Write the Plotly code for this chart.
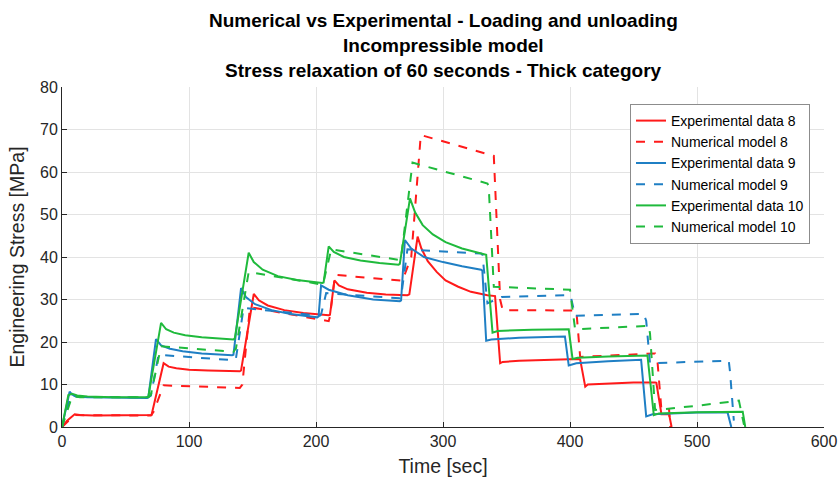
import plotly.graph_objects as go

# ---------------- data ----------------
exp8_t = [0, 4, 10, 14, 25, 40, 69, 70.5, 80, 84, 90, 100, 115, 140, 141, 151, 155, 162, 175, 190, 210,
          211, 214.5, 218, 225, 240, 255, 272, 273.5, 280, 283, 288, 295, 302, 312, 322, 335, 341, 345, 347,
          360, 380, 406, 408, 412, 414, 430, 450, 467, 468, 472, 476, 478, 480]
exp8_s = [0, 1.5, 3.0, 2.8, 2.7, 2.7, 2.7, 2.8, 15.0, 14.2, 13.8, 13.5, 13.3, 13.1, 13.3, 31.3, 29.8, 28.6,
          27.5, 26.8, 26.3, 26.4, 34.5, 33.3, 32.4, 31.6, 31.2, 31.0, 31.2, 44.8, 42.0, 39.0, 36.5, 34.5, 33.0,
          31.8, 31.0, 30.8, 15.0, 15.3, 15.6, 15.8, 16.0, 15.9, 9.5, 10.0, 10.3, 10.5, 10.5, 10.4, 3.0, 3.0, 3.0, 0]

num8_t = [0, 10, 70, 72, 80, 140, 142, 148, 210, 211, 215, 268, 275, 282.5, 340, 345, 347, 405, 408, 467,
          469, 472, 478, 479]
num8_s = [0, 2.8, 2.7, 3.5, 9.8, 9.2, 10.0, 28.2, 24.9, 26.0, 35.8, 34.4, 40.0, 68.7, 63.8, 30.0, 27.5,
          27.4, 16.5, 17.3, 15.0, 4.0, 4.2, 0]

exp9_t = [0, 6, 8, 12, 20, 40, 67, 68, 74, 78, 85, 95, 110, 134, 135, 141, 145, 152, 165, 180, 201, 202,
          204, 210, 225, 245, 266, 267, 270, 275, 285, 300, 315, 330, 331, 334, 338, 360, 395, 396, 399, 405,
          430, 455, 456, 460, 465, 500, 524, 527]
exp9_s = [0, 8.3, 7.6, 7.2, 7.0, 6.9, 6.8, 7.0, 20.7, 19.2, 18.4, 17.8, 17.3, 16.9, 17.0, 32.7, 30.5, 28.9,
          27.5, 26.6, 25.8, 26.0, 33.3, 32.3, 31.0, 30.0, 29.6, 29.8, 44.0, 42.0, 40.0, 38.8, 37.8, 37.0,
          36.8, 20.3, 20.6, 21.0, 21.3, 21.3, 14.5, 15.0, 15.5, 15.8, 15.8, 2.5, 3.0, 3.4, 3.5, 0]

num9_t = [0, 7, 12, 68, 70, 76, 135, 137, 143, 203, 204, 208, 266, 267, 272, 330, 331, 335, 346, 399,
          401, 404, 458, 460, 463, 525, 526, 529]
num9_s = [0, 7.5, 7.1, 7.0, 7.4, 17.0, 15.7, 16.2, 28.0, 26.2, 26.5, 31.5, 30.3, 30.6, 41.8, 40.8,
          40.6, 29.1, 30.6, 31.0, 30.2, 26.2, 26.6, 25.0, 15.0, 15.6, 13.0, 1.5]

exp10_t = [0, 5, 8, 12, 20, 40, 67, 68, 78, 82, 88, 97, 110, 135, 136, 147, 151, 158, 170, 185, 205, 206,
           210, 214, 222, 235, 250, 265, 266, 274, 278, 284, 292, 302, 315, 333, 334, 339, 343, 370, 398,
           399, 402, 406, 430, 460, 461, 466, 470, 500, 536, 538]
exp10_s = [0, 7.5, 7.8, 7.4, 7.2, 7.0, 7.0, 7.2, 24.5, 23.0, 22.2, 21.6, 21.1, 20.6, 20.8, 41.0, 38.8,
           37.0, 35.5, 34.6, 33.9, 34.0, 42.5, 41.2, 40.0, 39.2, 38.6, 38.2, 38.4, 53.8, 50.5, 47.5, 45.3,
           43.5, 42.0, 40.7, 40.5, 22.2, 22.6, 22.9, 23.0, 23.0, 16.0, 16.3, 16.6, 16.8, 16.8, 2.8, 3.2,
           3.5, 3.6, 0]

num10_t = [0, 8, 14, 68, 70, 78, 135, 137, 147, 205, 206, 212, 266, 267, 276, 335, 336, 340, 400, 401,
           404, 462, 463, 467, 500, 533, 537]
num10_s = [0, 7.3, 7.0, 7.0, 7.6, 19.0, 17.7, 18.5, 36.5, 33.5, 34.2, 41.8, 39.3, 39.8, 62.2, 57.3,
           56.5, 33.0, 32.3, 30.0, 23.0, 23.8, 22.0, 4.0, 5.0, 6.2, 0.5]

names = ["Experimental data 8", "Numerical model 8", "Experimental data 9",
         "Numerical model 9", "Experimental data 10", "Numerical model 10"]

title_lines = ["Numerical vs Experimental - Loading and unloading",
               "Incompressible model",
               "Stress relaxation of 60 seconds - Thick category"]

RED = "#ff1a1a"
BLUE = "#1f7fc4"
GREEN = "#1fba3c"

series = [
    (exp8_t, exp8_s, RED, "solid"),
    (num8_t, num8_s, RED, "dash"),
    (exp9_t, exp9_s, BLUE, "solid"),
    (num9_t, num9_s, BLUE, "dash"),
    (exp10_t, exp10_s, GREEN, "solid"),
    (num10_t, num10_s, GREEN, "dash"),
]

fig = go.Figure()
for name, (t, s, c, d) in zip(names, series):
    fig.add_trace(go.Scatter(x=t, y=s, mode="lines", name=name,
                             line=dict(color=c, width=2, dash=d)))

FONT = "Liberation Sans, Arial, sans-serif"
AX = "#262626"
GRID = "#e3e3e3"

# plot area: x 62..824 px, y 87..427 px
L, R, T, B = 62, 824, 87, 427
title_y_px = [20, 46, 71]
for txt, ypx in zip(title_lines, title_y_px):
    fig.add_annotation(
        text="<b>" + txt + "</b>", xref="paper", yref="paper",
        x=0.5, xanchor="center", y=(B - ypx) / (B - T), yanchor="middle",
        showarrow=False, font=dict(family=FONT, size=19, color="black"),
    )

fig.update_layout(
    width=838, height=480,
    margin=dict(l=L, r=838 - R, t=T, b=480 - B, autoexpand=False),
    paper_bgcolor="white", plot_bgcolor="white",
    font=dict(family=FONT, color=AX, size=16),
    showlegend=True,
    legend=dict(
        x=(810 - L) / (R - L), xanchor="right", y=(B - 104) / (B - T), yanchor="top",
        bgcolor="white", bordercolor="#8c8c8c", borderwidth=1,
        font=dict(family=FONT, size=14, color="black"),
        itemwidth=30, tracegroupgap=0,
    ),
)

fig.update_xaxes(
    range=[0, 600], tickvals=[0, 100, 200, 300, 400, 500, 600],
    showgrid=True, gridcolor=GRID, gridwidth=1, automargin=False,
    showline=True, linecolor=AX, linewidth=1, mirror=False,
    ticks="inside", ticklen=5, tickcolor=AX,
    zeroline=False,
    title=dict(text="Time [sec]", font=dict(size=19.5, color=AX), standoff=10),
    tickfont=dict(size=16, color=AX),
)
fig.update_yaxes(
    range=[0, 80], tickvals=[0, 10, 20, 30, 40, 50, 60, 70, 80],
    showgrid=True, gridcolor=GRID, gridwidth=1, automargin=False,
    showline=True, linecolor=AX, linewidth=1, mirror=False,
    ticks="inside", ticklen=5, tickcolor=AX,
    zeroline=False,
    title=dict(text="Engineering Stress [MPa]", font=dict(size=19.5, color=AX), standoff=10),
    tickfont=dict(size=16, color=AX),
)

fig.write_html("out.html")
